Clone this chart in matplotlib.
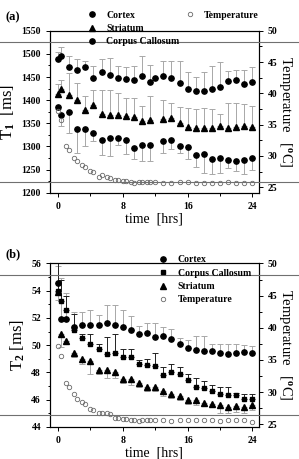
import numpy as np
import matplotlib.pyplot as plt
from matplotlib.lines import Line2D
from matplotlib.ticker import MultipleLocator

plt.rcParams['font.family'] = ['Liberation Serif', 'DejaVu Serif']
plt.rcParams['font.weight'] = 'bold'
plt.rcParams['mathtext.fontset'] = 'custom'
plt.rcParams['mathtext.rm'] = 'Liberation Serif:bold'
plt.rcParams['mathtext.it'] = 'Liberation Serif:bold'
plt.rcParams['mathtext.bf'] = 'Liberation Serif:bold'

# ---- panel (a): T1 ----
t1_time_ctx = [0, 0.33, 1.37, 2.37, 3.37, 4.37, 5.37, 6.37, 7.37, 8.37, 9.37, 10.37, 11.37,
               12, 13, 14, 15, 16, 17, 18, 19, 20, 21, 22, 23, 24]
t1_ctx = [1489, 1496, 1471, 1465, 1471, 1447, 1460, 1455, 1447, 1446, 1443, 1453, 1439,
          1448, 1453, 1448, 1438, 1425, 1420, 1420, 1424, 1429, 1442, 1443, 1435, 1440]
t1_ctx_hi = [1505, 1515, 1495, 1489, 1485, 1474, 1490, 1492, 1473, 1471, 1473, 1496, 1476,
             1448, 1485, 1485, 1485, 1460, 1451, 1461, 1473, 1482, 1464, 1466, 1466, 1471]

t1_time = [0, 0.33, 1.37, 2.37, 3.37, 4.37, 5.37, 6.37, 7.37, 8.37, 9.37, 10.37, 11.37,
           13, 14, 15, 16, 17, 18, 19, 20, 21, 22, 23, 24]
t1_str = [1413, 1424, 1412, 1401, 1379, 1390, 1370, 1367, 1367, 1366, 1364, 1355, 1357,
          1359, 1361, 1351, 1343, 1341, 1341, 1340, 1345, 1339, 1343, 1345, 1343]
t1_str_hi = [1435, 1444, 1459, 1437, 1408, 1423, 1421, 1421, 1416, 1405, 1405, 1388, 1408,
             1401, 1394, 1386, 1383, 1381, 1383, 1382, 1371, 1393, 1394, 1392, 1387]
t1_cc = [1386, 1367, 1375, 1338, 1338, 1329, 1315, 1319, 1318, 1315, 1297, 1304, 1303,
         1312, 1314, 1301, 1299, 1281, 1283, 1273, 1275, 1271, 1268, 1271, 1276]
t1_cc_lo = [1380, 1344, 1329, 1286, 1300, 1311, 1281, 1279, 1303, 1283, 1273, 1268, 1268,
            1285, 1294, 1285, 1272, 1256, 1243, 1240, 1243, 1254, 1247, 1240, 1250]

temp_time = [0, 0.33, 1, 1.37, 2, 2.37, 3, 3.37, 4, 4.37, 5, 5.37, 6, 6.37, 7, 7.37, 8, 8.37,
             9, 9.37, 10, 10.37, 11, 11.37, 12, 13, 14, 15, 16, 17, 18, 19, 20, 21, 22, 23, 24]
temp_a = [37.1, 35.7, 31.5, 31.0, 29.7, 29.2, 28.6, 28.2, 27.6, 27.4, 26.7, 26.9, 26.6, 26.5,
          26.1, 26.2, 26.0, 26.0, 25.8, 25.7, 25.8, 25.8, 25.8, 25.8, 25.8, 25.7, 25.6, 25.8,
          25.8, 25.7, 25.7, 25.6, 25.7, 25.8, 25.7, 25.7, 25.6]

# ---- panel (b): T2 ----
t2_time = [0, 0.33, 1, 2, 3, 4, 5, 6, 7, 8, 9, 10, 11, 12, 13, 14, 15, 16, 17, 18, 19, 20, 21, 22, 23, 24]
t2_ctx = [54.6, 51.95, 51.95, 51.35, 51.5, 51.5, 51.47, 51.64, 51.47, 51.35, 51.15, 50.8, 50.9,
          50.6, 50.66, 50.45, 50.1, 49.8, 49.63, 49.58, 49.58, 49.39, 49.34, 49.44, 49.49, 49.44]
t2_ctx_hi = [55.8, 54.9, 53.8, 52.45, 52.45, 52.6, 52.25, 52.94, 52.94, 52.6, 52.13, 51.4, 51.66,
             51.66, 51.35, 51.2, 50.5, 50.37, 50.66, 50.66, 50.1, 50.1, 50.1, 50.05, 50.0, 49.95]
t2_cc = [53.95, 53.25, 52.57, 51.15, 50.49, 50.12, 49.75, 49.34, 49.44, 49.14, 49.14, 48.6, 48.55,
         48.46, 47.82, 48.0, 47.87, 47.43, 46.94, 46.89, 46.62, 46.45, 46.35, 46.37, 46.06, 46.06]
t2_cc_hi = [56.05, 54.8, 53.6, 52.3, 50.85, 50.85, 50.1, 50.6, 50.85, 49.75, 49.75, 48.9, 49.0,
            49.4, 48.36, 48.65, 48.36, 47.87, 47.6, 47.38, 47.06, 46.9, 46.9, 46.5, 46.45, 46.45]
t2_str = [53.87, 50.8, 50.3, 49.46, 48.97, 48.85, 48.16, 48.16, 48.04, 47.5, 47.5, 47.23, 46.91,
          46.91, 46.6, 46.45, 46.28, 45.98, 45.96, 45.76, 45.7, 45.6, 45.46, 45.54, 45.47, 45.6]
t2_str_lo = [53.3, 49.9, 50.3, 49.1, 48.6, 47.9, 47.86, 47.6, 47.6, 47.2, 47.06, 46.9, 46.6,
             46.6, 46.25, 46.15, 45.95, 45.7, 45.6, 45.5, 45.5, 45.0, 45.0, 45.1, 45.0, 45.22]
temp_b = [37.1, 35.6, 31.4, 30.85, 29.7, 29.0, 28.5, 28.2, 27.4, 27.3, 26.7, 26.8, 26.7, 26.55,
          26.0, 26.0, 25.9, 25.9, 25.7, 25.7, 25.5, 25.6, 25.6, 25.7, 25.7, 25.6, 25.5, 25.6,
          25.7, 25.6, 25.6, 25.7, 25.5, 25.6, 25.6, 25.6, 25.4]

light = '#a8a8a8'
ms = 3.8


def style_axes(ax, ax2):
    for a in (ax, ax2):
        for s in a.spines.values():
            s.set_linewidth(0.8)
        a.tick_params(which='both', direction='out', labelsize=7, width=0.7)
        a.tick_params(which='major', length=3)
        a.tick_params(which='minor', length=1.8)
    ax.set_xlim(-1, 24.8)
    ax.xaxis.set_major_locator(MultipleLocator(8))
    ax.xaxis.set_minor_locator(MultipleLocator(4))
    ax.set_xlabel('time  [hrs]', fontsize=10, labelpad=1)
    ax2.set_ylim(24.1, 50)
    ax2.yaxis.set_major_locator(MultipleLocator(5))
    ax2.yaxis.set_minor_locator(MultipleLocator(2.5))
    ax2.set_ylabel(r'Temperature   [$^{o}$C]', rotation=270, fontsize=10.5, labelpad=12)


fig = plt.figure(figsize=(2.99, 4.59), dpi=100)

# (a)
ax = fig.add_axes([0.167, 0.58, 0.699, 0.353])
ax2 = ax.twinx()
z = np.zeros(len(t1_ctx))
ax.errorbar(t1_time_ctx, t1_ctx, yerr=[z, np.array(t1_ctx_hi) - np.array(t1_ctx)], fmt='none',
            ecolor=light, elinewidth=0.7, capsize=2.5, capthick=0.7)
z = np.zeros(len(t1_str))
ax.errorbar(t1_time, t1_str, yerr=[z, np.array(t1_str_hi) - np.array(t1_str)], fmt='none',
            ecolor=light, elinewidth=0.7, capsize=2.5, capthick=0.7)
ax.errorbar(t1_time, t1_cc, yerr=[np.array(t1_cc) - np.array(t1_cc_lo), z], fmt='none',
            ecolor=light, elinewidth=0.7, capsize=2.5, capthick=0.7)
h1, = ax.plot(t1_time_ctx, t1_ctx, 'o', color='black', ms=ms, ls='none')
h2, = ax.plot(t1_time, t1_str, '^', color='black', ms=ms, ls='none')
h3, = ax.plot(t1_time, t1_cc, 'o', color='black', ms=ms, ls='none')
h4, = ax2.plot(temp_time, temp_a, 'o', mfc='none', mec='#6a6a6a', mew=0.6, ms=3.2, ls='none')
ax.set_ylim(1200, 1550)
ax.yaxis.set_major_locator(MultipleLocator(50))
ax.yaxis.set_minor_locator(MultipleLocator(25))
ax.set_ylabel(r'T$_1$  [ms]', fontsize=12, labelpad=3)
style_axes(ax, ax2)
leg_kw = dict(frameon=False, fontsize=7, handlelength=1, handletextpad=1.0,
              labelspacing=0.45, borderpad=0, borderaxespad=0)
fig.legend([h1, h2, h3], ['Cortex', 'Striatum', 'Corpus Callosum'], loc='upper left',
           bbox_to_anchor=(0.29, 0.977), **leg_kw)
fig.legend([h4], ['Temperature'], loc='upper left', bbox_to_anchor=(0.618, 0.977), **leg_kw)
fig.text(0.02, 0.962, '(a)', fontsize=9, weight='bold', va='center')

# (b)
bx = fig.add_axes([0.167, 0.07, 0.699, 0.356])
bx2 = bx.twinx()
z = np.zeros(len(t2_ctx))
bx.errorbar(t2_time, t2_ctx, yerr=[z, np.array(t2_ctx_hi) - np.array(t2_ctx)], fmt='none',
            ecolor=light, elinewidth=0.7, capsize=2.5, capthick=0.7)
bx.errorbar(t2_time, t2_cc, yerr=[z, np.array(t2_cc_hi) - np.array(t2_cc)], fmt='none',
            ecolor='#222222', elinewidth=0.7, capsize=2.5, capthick=0.7)
bx.errorbar(t2_time, t2_str, yerr=[np.array(t2_str) - np.array(t2_str_lo), z], fmt='none',
            ecolor=light, elinewidth=0.7, capsize=2.5, capthick=0.7)
g1, = bx.plot(t2_time, t2_ctx, 'o', color='black', ms=ms, ls='none')
g2, = bx.plot(t2_time, t2_cc, 's', color='black', ms=3.3, ls='none')
g3, = bx.plot(t2_time, t2_str, '^', color='black', ms=ms, ls='none')
g4, = bx2.plot(temp_time, temp_b, 'o', mfc='none', mec='#6a6a6a', mew=0.6, ms=3.2, ls='none')
bx.set_ylim(44, 56)
bx.yaxis.set_major_locator(MultipleLocator(2))
bx.yaxis.set_minor_locator(MultipleLocator(1))
bx.set_ylabel(r'T$_2$ [ms]', fontsize=12, labelpad=3)
style_axes(bx, bx2)
bx2.set_ylim(24.6, 50)
fig.legend([g1, g2, g3, g4], ['Cortex', 'Corpus Callosum', 'Striatum', 'Temperature'],
           loc='upper left', bbox_to_anchor=(0.53, 0.444), **leg_kw)
fig.text(0.02, 0.445, '(b)', fontsize=9, weight='bold', va='center')

# thin rules running across the whole page
for yy in [1 - 42 / 459, 1 - 182 / 459, 1 - 275 / 459, 1 - 415 / 459]:
    fig.add_artist(Line2D([0, 1], [yy, yy], transform=fig.transFigure, color='#707070', lw=0.8))

fig.savefig('out.png', dpi=100)
